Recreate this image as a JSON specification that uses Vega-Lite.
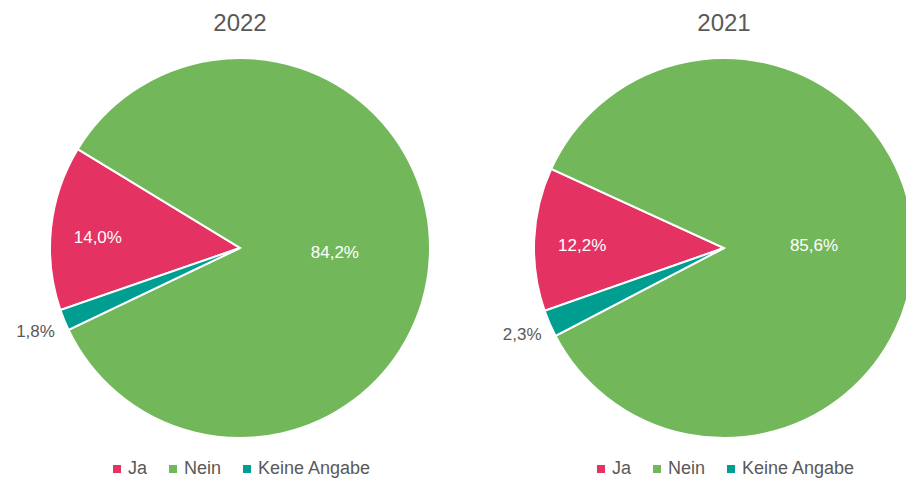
{
  "$schema": "https://vega.github.io/schema/vega-lite/v6.json",
  "padding": {"top": 12, "left": 0, "right": 0, "bottom": 0},
  "spacing": 4,
  "background": "white",
  "config": {
    "view": {"stroke": null},
    "font": "Liberation Sans",
    "title": {"fontSize": 24, "color": "#595959", "fontWeight": "normal", "font": "Liberation Sans", "anchor": "middle", "offset": 2},
    "legend": {"layout": {"bottom": {"anchor": "middle"}}}
  },
  "resolve": {"scale": {"color": "independent", "theta": "independent"}, "legend": {"color": "independent"}},
  "hconcat": [
    {
      "title": "2022",
      "width": 480,
      "height": 420,
      "data": {"values": [
        {"k": "Ja", "v": 14.0, "idx": 1, "label": "14,0%"},
        {"k": "Nein", "v": 84.2, "idx": 2, "label": "84,2%"},
        {"k": "Keine Angabe", "v": 1.8, "idx": 3, "label": "1,8%"}
      ]},
      "encoding": {
        "theta": {"field": "v", "type": "quantitative", "stack": true, "scale": {"range": [4.38, 10.663]}},
        "order": {"field": "idx", "type": "quantitative"}
      },
      "layer": [
        {
          "mark": {"type": "arc", "outerRadius": 190, "stroke": "white", "strokeWidth": 2},
          "encoding": {
            "color": {"field": "k", "type": "nominal", "sort": ["Ja", "Nein", "Keine Angabe"],
              "scale": {"domain": ["Ja", "Nein", "Keine Angabe"], "range": ["#E43263", "#72B85A", "#009E91"]},
              "legend": {"title": null, "orient": "bottom", "direction": "horizontal", "symbolType": "square", "symbolSize": 64, "labelFontSize": 18, "labelColor": "#595959", "columnPadding": 16, "labelOffset": 2, "symbolStrokeWidth": 0, "labelFont": "Liberation Sans", "offset": 2}
            }
          }
        },
        {
          "mark": {"type": "text", "fontSize": 17,
            "radius": {"expr": "datum.k === 'Ja' ? 143 : datum.k === 'Nein' ? 95 : 221"},
            "dy": {"expr": "datum.k === 'Ja' ? 5 : 0"},
            "fill": {"expr": "datum.k === 'Keine Angabe' ? '#595959' : 'white'"}},
          "encoding": {"text": {"field": "label"}}
        }
      ]
    },
    {
      "title": "2021",
      "width": 480,
      "height": 420,
      "data": {"values": [
        {"k": "Ja", "v": 12.2, "idx": 1, "label": "12,2%"},
        {"k": "Nein", "v": 85.6, "idx": 2, "label": "85,6%"},
        {"k": "Keine Angabe", "v": 2.3, "idx": 3, "label": "2,3%"}
      ]},
      "encoding": {
        "theta": {"field": "v", "type": "quantitative", "stack": true, "scale": {"range": [4.376, 10.659]}},
        "order": {"field": "idx", "type": "quantitative"}
      },
      "layer": [
        {
          "mark": {"type": "arc", "outerRadius": 190, "stroke": "white", "strokeWidth": 2},
          "encoding": {
            "color": {"field": "k", "type": "nominal", "sort": ["Ja", "Nein", "Keine Angabe"],
              "scale": {"domain": ["Ja", "Nein", "Keine Angabe"], "range": ["#E43263", "#72B85A", "#009E91"]},
              "legend": {"title": null, "orient": "bottom", "direction": "horizontal", "symbolType": "square", "symbolSize": 64, "labelFontSize": 18, "labelColor": "#595959", "columnPadding": 16, "labelOffset": 2, "symbolStrokeWidth": 0, "labelFont": "Liberation Sans", "offset": 2}
            }
          }
        },
        {
          "mark": {"type": "text", "fontSize": 17,
            "radius": {"expr": "datum.k === 'Ja' ? 142 : datum.k === 'Nein' ? 90 : 220"},
            "dy": {"expr": "datum.k === 'Ja' ? 5 : 0"},
            "fill": {"expr": "datum.k === 'Keine Angabe' ? '#595959' : 'white'"}},
          "encoding": {"text": {"field": "label"}}
        }
      ]
    }
  ]
}
